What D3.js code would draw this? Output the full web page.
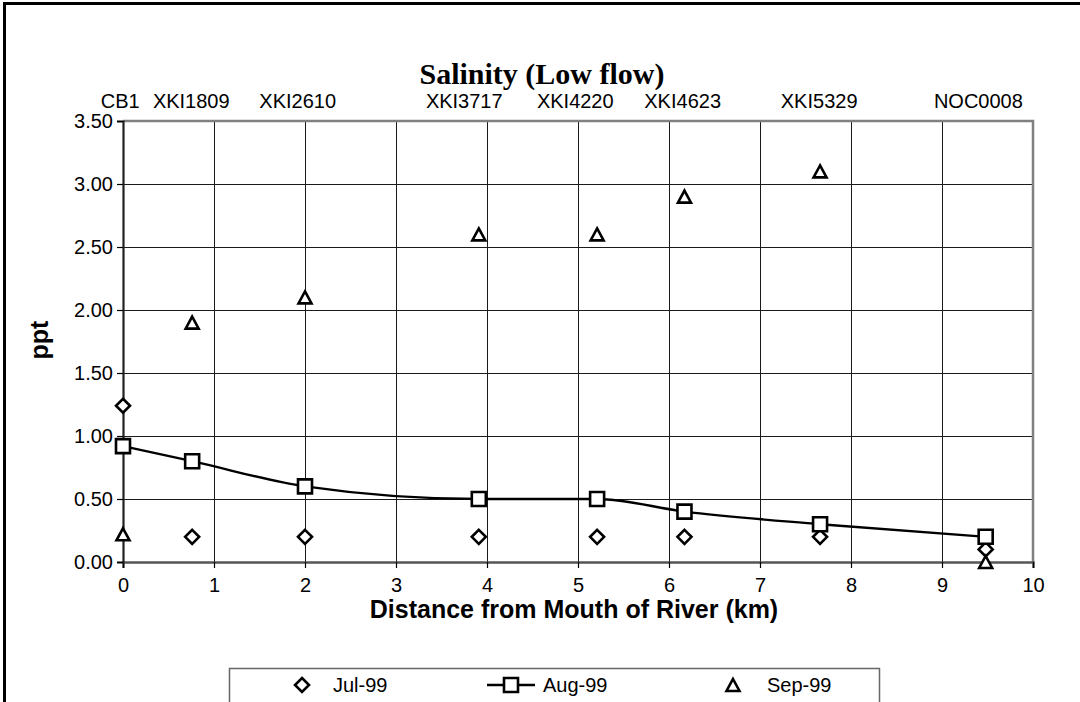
<!DOCTYPE html>
<html>
<head>
<meta charset="utf-8">
<title>Salinity (Low flow)</title>
<style type="text/css">
    body { margin: 0; background: #fff; }
    svg { display: block; }
    text { font-family: Arial, "Liberation Sans", sans-serif; fill: #000; }
    .title { font-family: "Times New Roman", "Liberation Serif", serif; font-weight: bold; font-size: 30px; }
    .axis-title { font-weight: bold; font-size: 25px; }
    .tick-label, .station, .legend-label { font-size: 20px; }
    .grid line { stroke: #1a1a1a; stroke-width: 1px; }
    .marker { fill: #fff; stroke: #000; stroke-width: 2.6px; }
</style>
</head>
<body>
<div id="chart"></div>
<script src="https://cdn.jsdelivr.net/npm/d3@7"></script>
<script>
    // distance of each station from the river mouth (km)
    var distKm = [0, 0.76, 2.0, 3.91, 5.21, 6.17, 7.66, 9.48];
    var stations = ["CB1", "XKI1809", "XKI2610", "XKI3717", "XKI4220", "XKI4623", "XKI5329", "NOC0008"];
    // where the station names sit along the top (km), they are not exactly over the points
    var stationLabelKm = [-0.03, 0.75, 1.92, 3.75, 4.97, 6.15, 7.65, 9.4];

    var jul99 = [1.24, 0.2, 0.2, 0.2, 0.2, 0.2, 0.2, 0.1];
    var aug99 = [0.92, 0.8, 0.6, 0.5, 0.5, 0.4, 0.3, 0.2];
    var sep99 = [0.22, 1.9, 2.1, 2.6, 2.6, 2.9, 3.1, 0.0];

    var seriesNames = ["Jul-99", "Aug-99", "Sep-99"];
    var xTicks = [0, 1, 2, 3, 4, 5, 6, 7, 8, 9, 10];
    var yTicks = [0, 0.5, 1.0, 1.5, 2.0, 2.5, 3.0, 3.5];

    var width = 1080, height = 702;
    var plot = { left: 123, top: 121, width: 910, height: 441 };

    var svg = d3.select("#chart").append("svg")
        .attr("width", width)
        .attr("height", height);

    // outer frame of the chart, right and bottom edges are cut off by the window
    svg.append("rect")
        .attr("x", 4.5).attr("y", 3.5)
        .attr("width", 1200).attr("height", 1000)
        .attr("fill", "none").attr("stroke", "#000").attr("stroke-width", 3);

    var x = d3.scaleLinear().domain([0, 10]).range([plot.left, plot.left + plot.width]);
    var y = d3.scaleLinear().domain([0, 3.5]).range([plot.top + plot.height, plot.top]);

    svg.append("text")
        .attr("class", "title")
        .attr("x", 542).attr("y", 84)
        .attr("text-anchor", "middle")
        .text("Salinity (Low flow)");

    // gridlines
    var grid = svg.append("g").attr("class", "grid");
    grid.selectAll(".vgrid")
        .data(xTicks.filter(function (d) { return d > 0 && d < 10; }))
        .enter().append("line")
        .attr("x1", function (d) { return Math.round(x(d)) + 0.5; })
        .attr("x2", function (d) { return Math.round(x(d)) + 0.5; })
        .attr("y1", y(3.5)).attr("y2", y(0));
    grid.selectAll(".hgrid")
        .data(yTicks.filter(function (d) { return d > 0 && d < 3.5; }))
        .enter().append("line")
        .attr("x1", x(0)).attr("x2", x(10))
        .attr("y1", function (d) { return Math.round(y(d)) + 0.5; })
        .attr("y2", function (d) { return Math.round(y(d)) + 0.5; });

    // plot border (top + right are grey in the original)
    svg.append("path")
        .attr("d", "M" + x(0) + "," + y(3.5) + "H" + x(10) + "V" + y(0))
        .attr("fill", "none").attr("stroke", "#808080").attr("stroke-width", 2.5);

    // axes
    var xAxis = d3.axisBottom(x).tickValues(xTicks).tickSize(6).tickPadding(10)
        .tickFormat(d3.format("d"));
    var gx = svg.append("g")
        .attr("transform", "translate(0," + y(0) + ")")
        .call(xAxis);
    gx.select(".domain").attr("stroke", "#555").attr("stroke-width", 2.5);
    gx.selectAll(".tick line").attr("stroke", "#000").attr("stroke-width", 1.2);
    gx.selectAll(".tick text").attr("class", "tick-label").attr("font-family", null).attr("font-size", null);

    var yAxis = d3.axisLeft(y).tickValues(yTicks).tickSize(6).tickPadding(4)
        .tickFormat(d3.format(".2f"));
    var gy = svg.append("g")
        .attr("transform", "translate(" + x(0) + ",0)")
        .call(yAxis);
    gy.select(".domain").attr("stroke", "#222").attr("stroke-width", 2.2);
    gy.selectAll(".tick line").attr("stroke", "#000").attr("stroke-width", 1.2);
    gy.selectAll(".tick text").attr("class", "tick-label").attr("font-family", null).attr("font-size", null);

    // station names above the plot
    svg.selectAll(".station")
        .data(stations)
        .enter().append("text")
        .attr("class", "station")
        .attr("x", function (d, i) { return x(stationLabelKm[i]); })
        .attr("y", 108)
        .attr("text-anchor", "middle")
        .text(function (d) { return d; });

    svg.append("text")
        .attr("class", "axis-title")
        .attr("x", 574).attr("y", 618)
        .attr("text-anchor", "middle")
        .text("Distance from Mouth of River (km)");

    svg.append("text")
        .attr("class", "axis-title")
        .attr("transform", "translate(48,340) rotate(-90)")
        .attr("text-anchor", "middle")
        .text("ppt");

    // marker shapes
    function diamondPath(cx, cy) {
        var r = 7;
        return "M" + cx + "," + (cy - r) + "L" + (cx + r) + "," + cy + "L" + cx + "," + (cy + r) + "L" + (cx - r) + "," + cy + "Z";
    }
    function squarePath(cx, cy) {
        var r = 7;
        return "M" + (cx - r) + "," + (cy - r) + "H" + (cx + r) + "V" + (cy + r) + "H" + (cx - r) + "Z";
    }
    function trianglePath(cx, cy) {
        var w = 6.5, h = 6;
        return "M" + cx + "," + (cy - h) + "L" + (cx + w) + "," + (cy + h) + "L" + (cx - w) + "," + (cy + h) + "Z";
    }

    // Aug-99 smoothed line
    var line = d3.line()
        .x(function (d, i) { return x(distKm[i]); })
        .y(function (d) { return y(d); })
        .curve(d3.curveMonotoneX);
    svg.append("path")
        .datum(aug99)
        .attr("d", line)
        .attr("fill", "none").attr("stroke", "#000").attr("stroke-width", 2.4);

    var points = svg.append("g");
    points.selectAll(".jul")
        .data(jul99)
        .enter().append("path")
        .attr("class", "marker")
        .attr("d", function (d, i) { return diamondPath(x(distKm[i]), y(d)); });
    points.selectAll(".aug")
        .data(aug99)
        .enter().append("path")
        .attr("class", "marker")
        .attr("d", function (d, i) { return squarePath(x(distKm[i]), y(d)); });
    points.selectAll(".sep")
        .data(sep99)
        .enter().append("path")
        .attr("class", "marker")
        .attr("stroke-width", 3)
        .attr("d", function (d, i) { return trianglePath(x(distKm[i]), y(d)); });

    // legend box, cut off at the bottom edge
    var legend = svg.append("g");
    legend.append("rect")
        .attr("x", 229.5).attr("y", 668.5)
        .attr("width", 650).attr("height", 80)
        .attr("fill", "#fff").attr("stroke", "#666").attr("stroke-width", 1.5);

    var ly = 685;
    legend.append("path").attr("class", "marker").attr("d", diamondPath(302, ly));
    legend.append("line")
        .attr("x1", 487).attr("x2", 535).attr("y1", ly).attr("y2", ly)
        .attr("stroke", "#000").attr("stroke-width", 2.4);
    legend.append("path").attr("class", "marker").attr("d", squarePath(511, ly));
    legend.append("path").attr("class", "marker").attr("stroke-width", 3).attr("d", trianglePath(733, ly));

    var legendX = [333, 543, 767];
    legend.selectAll(".legend-label")
        .data(seriesNames)
        .enter().append("text")
        .attr("class", "legend-label")
        .attr("x", function (d, i) { return legendX[i]; })
        .attr("y", ly + 7)
        .text(function (d) { return d; });
</script>
</body>
</html>
